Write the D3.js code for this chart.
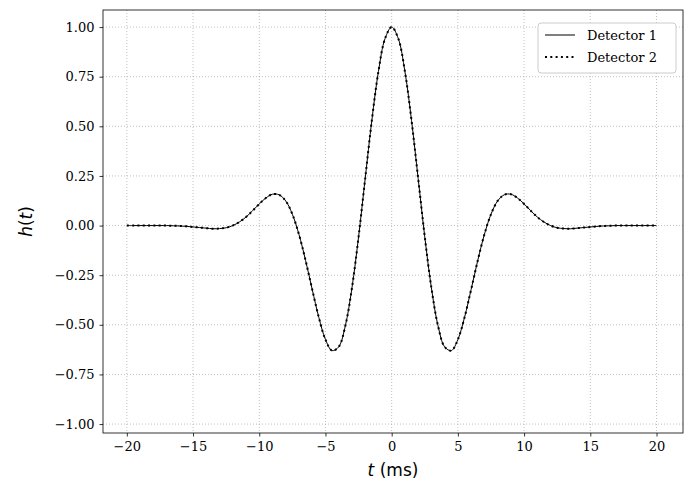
<!DOCTYPE html>
<html><head><meta charset="utf-8">
<script src="https://cdn.jsdelivr.net/npm/d3@7"></script>
<style>body{margin:0;background:#fff}</style></head>
<body><svg id="c" width="700" height="500"></svg>
<script>
const tHalf = [0,0.5,1,1.5,2,2.5,3,3.5,4,4.5,5,5.5,6,6.5,7,7.5,8,8.5,9,9.5,10,10.5,11,11.5,12,12.5,13,13.5,14,14.5,15,15.5,16,16.5,17,17.5,18,18.5,19,19.5,20];
const hHalf = [1,0.942,0.776,0.529,0.237,-0.057,-0.314,-0.505,-0.611,-0.630,-0.574,-0.463,-0.322,-0.176,-0.045,0.057,0.124,0.155,0.158,0.139,0.109,0.075,0.043,0.018,0.000,-0.011,-0.015,-0.016,-0.013,-0.010,-0.007,-0.004,-0.002,-0.001,0,0,0,0,0,0,0];
const xTicks = [-20,-15,-10,-5,0,5,10,15,20];
const yTicks = [-1,-0.75,-0.5,-0.25,0,0.25,0.5,0.75,1];
const seriesNames = ["Detector 1","Detector 2"];
// full series (waveform is symmetric about t=0)
const data = [];
for (let i = tHalf.length-1; i > 0; i--) data.push({t:-tHalf[i], h:hHalf[i]});
for (let i = 0; i < tHalf.length; i++) data.push({t:tHalf[i], h:hHalf[i]});

const svg = d3.select("#c");
const L=103,R=683,T=10,B=433;
const x = d3.scaleLinear().domain([-21.8,22]).range([L,R]);
const y = d3.scaleLinear().domain([-1.045,1.086]).range([B,T]);
const serif = "DejaVu Serif";

const g = svg.append("g");
g.selectAll(".gx").data(xTicks).join("line").attr("x1",d=>x(d)).attr("x2",d=>x(d)).attr("y1",T).attr("y2",B)
 .attr("stroke","#b0b0b0").attr("stroke-width",0.8).attr("stroke-dasharray","1,2");
g.selectAll(".gy").data(yTicks).join("line").attr("y1",d=>y(d)).attr("y2",d=>y(d)).attr("x1",L).attr("x2",R)
 .attr("stroke","#b0b0b0").attr("stroke-width",0.8).attr("stroke-dasharray","1,2");

const xa = svg.append("g").attr("transform",`translate(0,${B})`)
 .call(d3.axisBottom(x).tickValues(xTicks).tickSize(3.5).tickPadding(5).tickFormat(d=>d<0?"\u2212"+(-d):d));
const ya = svg.append("g").attr("transform",`translate(${L},0)`)
 .call(d3.axisLeft(y).tickValues(yTicks).tickSize(3.5).tickPadding(5).tickFormat(d=>(d<0?"\u2212":"")+Math.abs(d).toFixed(2)));
[xa,ya].forEach(a=>{a.select(".domain").remove();a.selectAll("text").attr("font-family",serif).attr("font-size",13).attr("fill","#000");a.selectAll("line").attr("stroke","#000").attr("stroke-width",0.8);});
svg.append("rect").attr("x",L).attr("y",T).attr("width",R-L).attr("height",B-T).attr("fill","none").attr("stroke","#000").attr("stroke-width",0.8);

const line = d3.line().x(d=>x(d.t)).y(d=>y(d.h)).curve(d3.curveCatmullRom);
svg.append("path").datum(data).attr("d",line).attr("fill","none").attr("stroke","#000").attr("stroke-width",1);
svg.append("path").datum(data).attr("d",line).attr("fill","none").attr("stroke","#000").attr("stroke-width",2).attr("stroke-dasharray","2,3.3");

svg.append("text").attr("x",(L+R)/2).attr("y",476).attr("text-anchor","middle").attr("font-family","DejaVu Sans").attr("font-size",17)
 .html('<tspan font-style="italic">t</tspan> (ms)');
svg.append("text").attr("transform",`translate(32,${(T+B)/2}) rotate(-90)`).attr("text-anchor","middle").attr("font-family","DejaVu Sans").attr("font-size",17)
 .html('<tspan font-style="italic">h</tspan>(<tspan font-style="italic">t</tspan>)');

const lg = svg.append("g");
lg.append("rect").attr("x",538).attr("y",23-0).attr("width",138).attr("height",50).attr("rx",3).attr("fill","#fff").attr("stroke","#ccc").attr("stroke-width",1);
lg.select("rect").attr("y",23);
seriesNames.forEach((n,i)=>{
  const yy = 35+i*22;
  lg.append("line").attr("x1",545).attr("x2",575).attr("y1",yy).attr("y2",yy).attr("stroke","#000")
    .attr("stroke-width",i?2:1).attr("stroke-dasharray",i?"2,3.3":null);
  lg.append("text").attr("x",587).attr("y",yy+5).attr("font-family",serif).attr("font-size",13).text(n);
});
</script></body></html>
